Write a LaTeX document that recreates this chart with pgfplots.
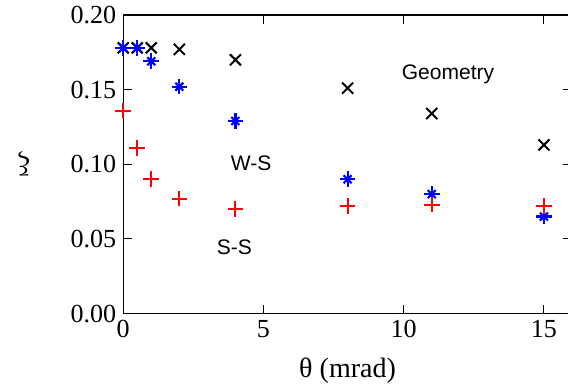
\documentclass[border=0pt]{standalone}
\usepackage{pgfplots}
\pgfplotsset{compat=1.18}
\usepackage{fontspec}
\setmainfont{Liberation Serif}
\newfontfamily\sansf{Liberation Sans}
\begin{document}
\begin{tikzpicture}
\begin{axis}[
  scale only axis, width=224bp, height=149bp,
  xmin=0, xmax=16, ymin=0, ymax=0.2,
  xtick={0,5,10,15}, ytick={0,0.05,0.10,0.15,0.20},
  yticklabel style={/pgf/number format/.cd,fixed,fixed zerofill,precision=2},
  /pgf/number format/assume math mode=true,
  tick align=inside, major tick length=4.5bp,
  tick style={line width=0.5bp, black},
  ticklabel style={font=\fontsize{13bp}{15bp}\selectfont},
  xlabel={θ (mrad)}, ylabel={ξ},
  label style={font=\fontsize{14bp}{16bp}\selectfont},
  xlabel style={at={(axis description cs:0.5,0)}, anchor=center, yshift=-28.5bp},
  ylabel style={at={(axis description cs:-0.221,0.5)}, anchor=center, rotate=90},
  axis line style={line width=0.6bp, black},
  clip=false,
]
\coordinate (A) at (rel axis cs:0,0);
\coordinate (B) at (rel axis cs:1,1);
\addplot[only marks, mark=x, mark size=3.9bp, black, line width=1bp] coordinates {
 (0,0.178) (0.5,0.178) (1,0.178) (2,0.177) (4,0.170) (8,0.151) (11,0.134) (15,0.113)};
\addplot[only marks, mark=+, mark size=3.9bp, blue, line width=1.1bp] coordinates {
 (0,0.178) (0.5,0.178) (1,0.169) (2,0.152) (4,0.129) (8,0.090) (11,0.080) (15,0.065)};
\addplot[only marks, mark=x, mark size=2.8bp, blue, line width=1.1bp] coordinates {
 (0,0.178) (0.5,0.178) (1,0.169) (2,0.152) (4,0.129) (8,0.090) (11,0.080) (15,0.065)};
\addplot[only marks, mark=+, mark size=3.9bp, red, line width=1bp] coordinates {
 (0,0.136) (0.5,0.111) (1,0.090) (2,0.077) (4,0.070) (8,0.072) (11,0.073) (15,0.072)};
\node[font=\sansf\fontsize{10.5bp}{12bp}\selectfont] at (axis cs:11.58,0.1604) {Geometry};
\node[font=\sansf\fontsize{10.5bp}{12bp}\selectfont] at (axis cs:4.56,0.1007) {W-S};
\node[font=\sansf\fontsize{10.5bp}{12bp}\selectfont] at (axis cs:3.96,0.0443) {S-S};
\end{axis}
\pgfresetboundingbox
\path[use as bounding box] ([xshift=-61.5bp,yshift=-38bp]A) rectangle ([xshift=-2bp,yshift=7.5bp]B);
\end{tikzpicture}
\end{document}
